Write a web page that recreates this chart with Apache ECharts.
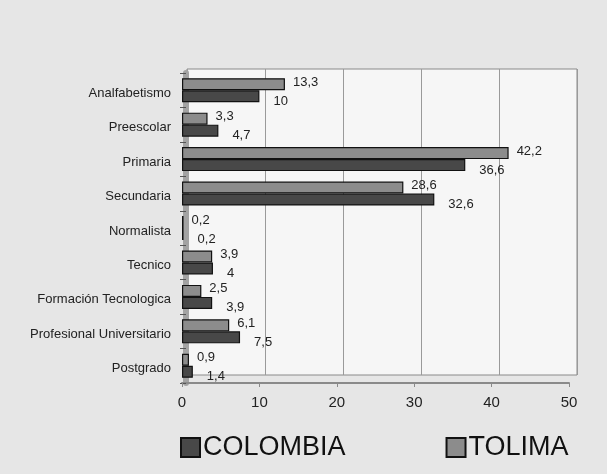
<!DOCTYPE html>
<html>
<head>
<meta charset="utf-8">
<script src="https://cdn.jsdelivr.net/npm/echarts@6/dist/echarts.min.js"></script>
<style>
html,body{margin:0;padding:0;background:#e6e6e6;}
#c{width:607px;height:474px;}
</style>
</head>
<body>
<div id="c"></div>
<script>
var categories = ['Analfabetismo','Preescolar','Primaria','Secundaria','Normalista','Tecnico','Formación Tecnologica','Profesional Universitario','Postgrado'];
var colombia = [10, 4.7, 36.6, 32.6, 0.2, 4, 3.9, 7.5, 1.4];
var tolima = [13.3, 3.3, 42.2, 28.6, 0.2, 3.9, 2.5, 6.1, 0.9];
var xTicks = [0, 10, 20, 30, 40, 50];

var FONT = '"Liberation Sans", Arial, sans-serif';
var fmt = function (p) { return String(p.value).replace('.', ','); };

var chart = echarts.init(document.getElementById('c'));
chart.setOption({
  backgroundColor: '#e6e6e6',
  animation: false,
  textStyle: { fontFamily: FONT },
  grid: [
    { left: 182, right: 38, top: 73, bottom: 91 },
    { left: 187, right: 30, top: 69, bottom: 99, show: true, z: -1,
      backgroundColor: '#f6f6f6', borderColor: '#8a8a8a', borderWidth: 1 }
  ],
  xAxis: [
    { type: 'value', gridIndex: 0, min: xTicks[0], max: xTicks[xTicks.length - 1], interval: 10,
      splitLine: { show: false },
      axisLine: { show: true, lineStyle: { color: '#8a8a8a', width: 2 } },
      axisTick: { show: true, length: 4, lineStyle: { color: '#8a8a8a' } },
      axisLabel: { fontSize: 15, color: '#222', margin: 12, fontFamily: FONT } },
    { type: 'value', gridIndex: 1, min: xTicks[0], max: xTicks[xTicks.length - 1], interval: 10, z: -1,
      splitLine: { show: true, lineStyle: { color: '#9a9a9a', width: 1 } },
      axisLine: { show: false }, axisTick: { show: false }, axisLabel: { show: false } }
  ],
  yAxis: [
    { type: 'category', gridIndex: 0, data: categories, inverse: true, offset: -4,
      axisLine: { show: true, lineStyle: { color: '#a3a3a3', width: 6 } },
      axisTick: { show: true, length: 6, lineStyle: { color: '#555' } },
      axisLabel: { fontSize: 13, color: '#222', margin: 15, fontFamily: FONT,
        verticalAlign: 'top', lineHeight: 6 } },
    { type: 'category', gridIndex: 1, data: categories, inverse: true, z: -1,
      axisLine: { show: false }, axisTick: { show: false }, axisLabel: { show: false } }
  ],
  legend: {
    data: ['COLOMBIA', 'TOLIMA'],
    top: 429, left: 175,
    itemWidth: 19, itemHeight: 19, itemGap: 100,
    icon: 'rect',
    textStyle: { fontSize: 27, color: '#111', fontFamily: FONT, padding: [0, 0, 0, -2] }
  },
  series: [
    { name: 'TOLIMA', type: 'bar', data: tolima, xAxisIndex: 0, yAxisIndex: 0,
      barWidth: 12, barGap: '0%',
      itemStyle: { color: '#8c8c8c', borderColor: '#111', borderWidth: 1.2 },
      label: { show: true, position: 'right', formatter: fmt, offset: [3, -2],
        fontSize: 13, color: '#222', fontFamily: FONT } },
    { name: 'COLOMBIA', type: 'bar', data: colombia, xAxisIndex: 0, yAxisIndex: 0,
      barWidth: 12, barGap: '0%',
      itemStyle: { color: '#484848', borderColor: '#111', borderWidth: 1.2 },
      label: { show: true, position: 'right', formatter: fmt, offset: [9, 5],
        fontSize: 13, color: '#222', fontFamily: FONT } }
  ]
});
</script>
</body>
</html>
